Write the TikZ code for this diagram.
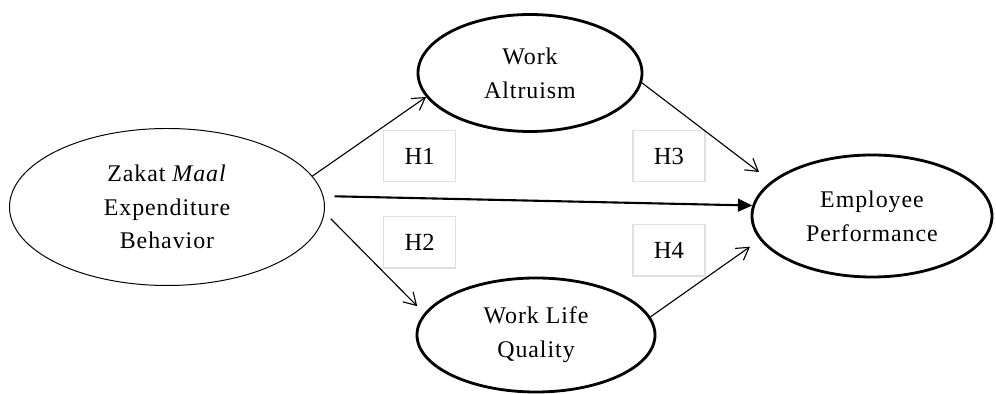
\documentclass[tikz,border=0pt]{standalone}
\usepackage{fontspec}
\setmainfont{Liberation Serif}
\usetikzlibrary{arrows.meta}
\usetikzlibrary{shapes.geometric}

\begin{document}
\begin{tikzpicture}[line width=0.8pt,
  construct/.style={ellipse, draw, line width=2pt, inner sep=0pt, align=center,
    font=\fontsize{17}{24}\selectfont\addfontfeatures{LetterSpace=4}},
  hypbox/.style={draw=black!12, line width=0.8pt, minimum width=1.8cm,
    minimum height=1.28cm, font=\fontsize{17.5}{20}\selectfont},
  link/.style={line width=0.8pt, -{Straight Barb[length=3mm, width=3.6mm]}}]

  \useasboundingbox (0,0) rectangle (24.9,9.85);

  \begin{scope}[xshift=0.0cm, yshift=0.0cm]

  \draw (4.175,4.675) node[construct, line width=0.7pt, minimum width=7.875cm,
    minimum height=3.925cm, name=zakat] {Zakat \textit{Maal}\\Expenditure\\Behavior};
  \draw (13.25,8.025) node[construct, minimum width=5.6cm, minimum height=2.925cm,
    name=altruism] {Work\\Altruism};
  \draw (13.4,1.475) node[construct, minimum width=5.95cm, minimum height=2.85cm,
    name=wlq] {Work Life\\Quality};
  \draw (21.8,4.45) node[construct, minimum width=6.0cm, minimum height=3.05cm,
    name=perf] {Employee\\Performance};

  % hypothesis labels
  \draw (10.49,5.95) node[hypbox, name=h1] {H1};
  \draw (10.49,3.79) node[hypbox, name=h2] {H2};
  \draw (16.725,5.95) node[hypbox, name=h3] {H3};
  \draw (16.725,3.59) node[hypbox, name=h4] {H4};

  \draw [link] (zakat.12) -- (altruism.193);
  \draw [link, shorten <=0.22cm, shorten >=0.25cm] (zakat.-2.5) -- (wlq.169);
  \draw [link, shorten >=0.38cm] (altruism.-5) -- (perf.161);
  \draw [link, shorten >=0.3cm] (wlq.9) -- (perf.192);
  \draw [line width=1.5pt, -{Triangle[length=3.6mm, width=3.2mm]}, shorten <=0.28cm]
    (zakat.4) -- (perf.175);

  \end{scope}

\end{tikzpicture}
\end{document}
